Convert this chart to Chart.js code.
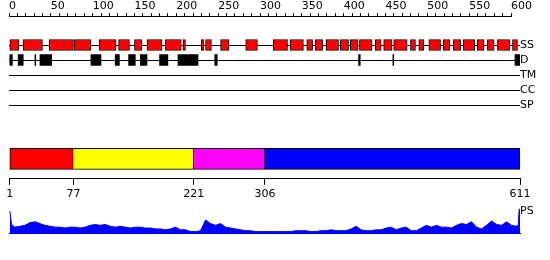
<!DOCTYPE html>
<html>
<head>
<meta charset="utf-8">
<script src="https://cdn.jsdelivr.net/npm/chart.js@4.4.1/dist/chart.umd.min.js"></script>
<style>
  body { margin: 0; background: #fff; }
  #wrap { position: relative; width: 550px; height: 260px; overflow: hidden; }
  #wrap canvas { position: absolute; left: 0; }
</style>
</head>
<body>
<div id="wrap">
  <canvas id="ruler" width="550" height="40" style="top:0px"></canvas>
  <canvas id="tracks" width="550" height="90" style="top:30px"></canvas>
  <canvas id="domains" width="550" height="70" style="top:139px"></canvas>
  <canvas id="ps" width="550" height="40" style="top:200px"></canvas>
</div>
<script>
// sequence length and ruler
const seqLength = 611;
const rulerMax = 600;
const rulerLabels = [0, 50, 100, 150, 200, 250, 300, 350, 400, 450, 500, 550, 600];

// feature tracks
const trackNames = ['SS', 'D', 'TM', 'CC', 'SP'];
const ssSegments = [
  [1, 12], [17, 40], [48, 77], [78, 98], [108, 128], [131, 144], [150, 159],
  [165, 183], [187, 206], [208, 211], [230, 233], [235, 242], [253, 263], [283, 297],
  [316, 333], [336, 352], [356, 363], [366, 375], [379, 394], [396, 406], [408, 417],
  [419, 434], [438, 445], [448, 458], [460, 476], [480, 486], [490, 496], [502, 516],
  [519, 527], [531, 540], [543, 557], [560, 568], [572, 580], [584, 599], [602, 608]
];
const disorderSegments = [
  [1, 4], [11, 17], [31, 32], [37, 51], [98, 110], [127, 132], [143, 151],
  [157, 165], [180, 190], [202, 226], [246, 249], [418, 420], [459, 460], [605, 611]
];

// domain boundaries
const domainBounds = [1, 77, 221, 306, 611];

// PS profile
const psResidues = [
  1, 3, 7, 13, 19, 25, 31, 37, 43, 49, 55, 61, 67, 73, 79, 85, 91, 97, 103, 109,
  115, 121, 127, 133, 139, 145, 151, 157, 163, 169, 175, 181, 187, 193, 199, 205,
  211, 217, 223, 229, 235, 241, 247, 253, 259, 265, 271, 277, 283, 289, 295, 301,
  307, 313, 319, 325, 331, 337, 343, 349, 355, 361, 367, 373, 379, 385, 391, 397,
  403, 409, 415, 421, 427, 433, 439, 445, 451, 457, 463, 469, 475, 481, 487, 493,
  499, 505, 511, 517, 523, 529, 535, 541, 547, 553, 559, 565, 571, 577, 583, 589,
  595, 601, 607, 609, 610, 611
];
const psValues = [
  25, 10, 7, 8, 9, 12, 13, 11, 9, 8, 7, 7, 6, 7, 7, 6, 7, 9, 10, 9,
  10, 8, 7, 8, 7, 6, 7, 7, 6, 6, 5, 5, 4, 5, 7, 4,
  4, 2, 2, 3, 15, 11, 9, 11, 7, 6, 5, 4, 3, 3, 2, 2,
  2, 2, 2, 2, 2, 2, 3, 3, 3, 2, 2, 3, 3, 4, 3, 3,
  3, 5, 8, 4, 3, 3, 4, 4, 6, 7, 4, 6, 7, 3, 3, 6,
  9, 7, 9, 7, 7, 6, 9, 11, 10, 13, 7, 5, 9, 14, 10, 9,
  13, 9, 8, 10, 27, 27
];
const psLabelAt = 25;

Chart.defaults.font.family = 'DejaVu Sans';
Chart.defaults.font.size = 11;
Chart.defaults.color = '#000';
Chart.defaults.animation = false;
Chart.defaults.responsive = false;
Chart.defaults.devicePixelRatio = 1;
Chart.defaults.plugins.legend.display = false;
Chart.defaults.plugins.tooltip.enabled = false;

const fixWidth = (scale) => { scale.width = 30; };

// ruler
new Chart(document.getElementById('ruler'), {
  type: 'line',
  data: { datasets: [] },
  options: {
    layout: { padding: { left: 9, right: 39, top: 0, bottom: 0 } },
    scales: {
      x: {
        type: 'linear', position: 'top', min: 0, max: rulerMax,
        ticks: {
          stepSize: 10, autoSkip: false, maxRotation: 0, align: 'start', padding: 0,
          callback: (v) => rulerLabels.includes(v) ? String(v) : ''
        },
        grid: { drawOnChartArea: false, drawTicks: true, tickLength: 3, color: '#000' },
        border: { color: '#000', width: 1 }
      },
      y: { display: false }
    }
  }
});

// SS / D / TM / CC / SP tracks
new Chart(document.getElementById('tracks'), {
  type: 'bar',
  data: {
    labels: trackNames,
    datasets: [
      {
        data: ssSegments.map(([s, e]) => ({ x: [s, e], y: 'SS' })),
        backgroundColor: '#ff0000', borderColor: '#000', borderWidth: 1,
        borderSkipped: false, barThickness: 11, grouped: false
      },
      {
        data: disorderSegments.map(([s, e]) => ({ x: [s, e], y: 'D' })),
        backgroundColor: '#000', borderWidth: 0, barThickness: 11, grouped: false
      }
    ]
  },
  options: {
    indexAxis: 'y',
    layout: { padding: { left: 9, right: 0, top: 7.5, bottom: 7.5 } },
    scales: {
      x: { type: 'linear', display: false, min: 0, max: seqLength },
      y: {
        position: 'right', offset: true,
        grid: { offset: false, color: '#000', lineWidth: 1, drawTicks: false },
        border: { display: false },
        ticks: { padding: 0, autoSkip: false },
        afterFit: fixWidth
      }
    }
  }
});

// domain bar
new Chart(document.getElementById('domains'), {
  type: 'bar',
  data: {
    labels: ['domains'],
    datasets: [{
      data: domainBounds.slice(1).map((e, i) => ({ x: [domainBounds[i], e], y: 'domains' })),
      backgroundColor: ['#ff0000', '#ffff00', '#ff00ff', '#0000ff'],
      borderColor: '#000', borderWidth: 1,
      borderSkipped: (ctx) => ctx.dataIndex === 0 ? false : 'left',
      barThickness: 21
    }]
  },
  options: {
    indexAxis: 'y',
    layout: { padding: { left: 9, right: 30, top: 0, bottom: 5 } },
    scales: {
      x: {
        type: 'linear', position: 'bottom', min: 0, max: seqLength,
        afterBuildTicks: (scale) => { scale.ticks = domainBounds.map((v) => ({ value: v })); },
        ticks: { autoSkip: false, maxRotation: 0, padding: 3 },
        grid: { drawOnChartArea: false, drawTicks: true, tickLength: 6, color: '#000' },
        border: { color: '#000', width: 1 }
      },
      y: { display: false }
    }
  }
});

// PS profile
new Chart(document.getElementById('ps'), {
  type: 'line',
  data: {
    datasets: [{
      data: psResidues.map((r, i) => ({ x: r, y: psValues[i] })),
      borderColor: '#0000ff', backgroundColor: '#0000ff', borderWidth: 1,
      fill: 'origin', pointRadius: 0, tension: 0
    }]
  },
  options: {
    layout: { padding: { left: 9, right: 0, top: 5, bottom: 5 } },
    scales: {
      x: {
        type: 'linear', min: 0, max: seqLength,
        ticks: { display: false },
        grid: { display: false, drawTicks: false },
        border: { color: '#0000ff', width: 1 }
      },
      y: {
        position: 'right', min: 0, max: 30,
        afterBuildTicks: (scale) => { scale.ticks = [{ value: psLabelAt }]; },
        ticks: { padding: 0, callback: () => 'PS' },
        grid: { display: false, drawTicks: false },
        border: { display: false },
        afterFit: fixWidth
      }
    }
  }
});
</script>
</body>
</html>
